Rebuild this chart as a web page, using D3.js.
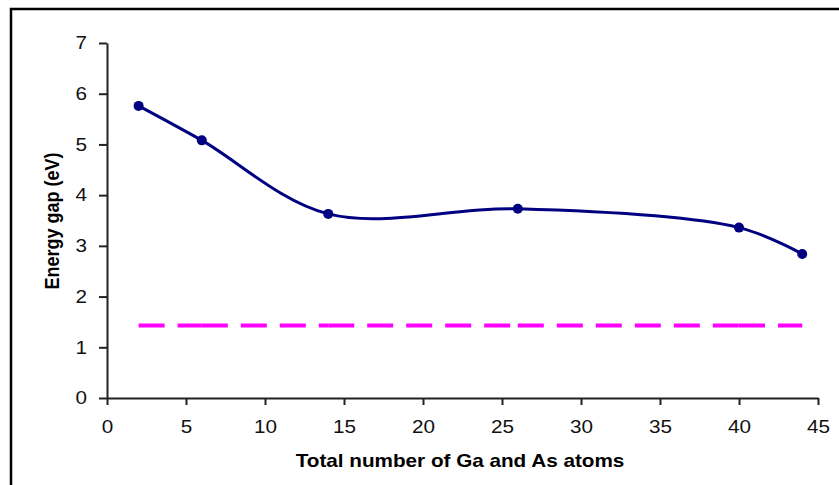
<!DOCTYPE html>
<html>
<head>
<meta charset="utf-8">
<script src="https://cdn.jsdelivr.net/npm/d3@7"></script>
<style>
  body { margin: 0; background: #fff; }
  text { font-family: "Liberation Sans", Arial, sans-serif; }
</style>
</head>
<body>
<div class="canvas"></div>
<script>
// number of atoms vs calculated gap
const atoms = [2, 6, 14, 26, 40, 44];
const gap = [5.76, 5.08, 3.63, 3.73, 3.36, 2.84];
// bulk GaAs gap, drawn as dashed reference
const bulkGap = [1.43, 1.43, 1.43, 1.43, 1.43, 1.43];
const xTicks = [0, 5, 10, 15, 20, 25, 30, 35, 40, 45];
const yTicks = [0, 1, 2, 3, 4, 5, 6, 7];

const stretch = 1.15; // source picture is a bit wider than tall

const svg = d3.select('.canvas')
  .append('svg')
  .attr('width', 839)
  .attr('height', 485);

// outer frame (right/bottom sit off the picture)
svg.append('rect')
  .attr('x', 11)
  .attr('y', 9)
  .attr('width', 840)
  .attr('height', 490)
  .attr('fill', 'none')
  .attr('stroke', '#000')
  .attr('stroke-width', 2.5);

const x = d3.scaleLinear().domain([0, 45]).range([107, 818]);
const y = d3.scaleLinear().domain([0, 7]).range([398, 43]);

const xAxis = svg.append('g')
  .attr('transform', 'translate(0, 398)')
  .call(d3.axisBottom(x).tickValues(xTicks).tickFormat(d3.format('d'))
    .tickSize(7).tickSizeOuter(0).tickPadding(15));

const yAxis = svg.append('g')
  .attr('transform', 'translate(107, 0)')
  .call(d3.axisLeft(y).tickValues(yTicks).tickFormat(d3.format('d'))
    .tickSize(8).tickSizeOuter(0).tickPadding(10));

[xAxis, yAxis].forEach(a => {
  a.select('.domain').attr('stroke', '#222').attr('stroke-width', 2);
  a.selectAll('.tick line').attr('stroke', '#222').attr('stroke-width', 2);
  a.selectAll('.tick text')
    .attr('fill', '#111')
    .style('font-size', '18px')
    .style('font-family', '"Liberation Sans", Arial, sans-serif');
});
xAxis.selectAll('.tick text').attr('transform', `scale(${stretch},1)`);
yAxis.selectAll('.tick text')
  .attr('x', -20 / stretch)
  .attr('transform', `scale(${stretch},1)`);

// dashed bulk line: each segment restarts its dash pattern like Excel
const pts2 = atoms.map((a, i) => [a, bulkGap[i]]);
d3.pairs(pts2).forEach(([p, q]) => {
  svg.append('line')
    .attr('x1', x(p[0])).attr('y1', y(p[1]))
    .attr('x2', x(q[0])).attr('y2', y(q[1]))
    .attr('stroke', '#ff00ff')
    .attr('stroke-width', 4)
    .attr('stroke-dasharray', '26,13');
});

const pts = atoms.map((a, i) => [a, gap[i]]);

const line = d3.line()
  .x(d => x(d[0]))
  .y(d => y(d[1]))
  .curve(d3.curveCatmullRom.alpha(0.5));

svg.append('path')
  .datum(pts)
  .attr('d', line)
  .attr('fill', 'none')
  .attr('stroke', '#000080')
  .attr('stroke-width', 3);

svg.selectAll('circle.pt')
  .data(pts)
  .enter()
  .append('circle')
  .attr('class', 'pt')
  .attr('cx', d => x(d[0]))
  .attr('cy', d => y(d[1]))
  .attr('r', 5)
  .attr('fill', '#000080');

// axis titles
svg.append('text')
  .attr('transform', `translate(460, 467) scale(${stretch},1)`)
  .attr('text-anchor', 'middle')
  .style('font-size', '18px')
  .style('font-weight', 'bold')
  .text('Total number of Ga and As atoms');

svg.append('text')
  .attr('transform', `translate(59, 221) rotate(-90) scale(1,${stretch})`)
  .attr('text-anchor', 'middle')
  .style('font-size', '18px')
  .style('font-weight', 'bold')
  .text('Energy gap (eV)');
</script>
</body>
</html>
